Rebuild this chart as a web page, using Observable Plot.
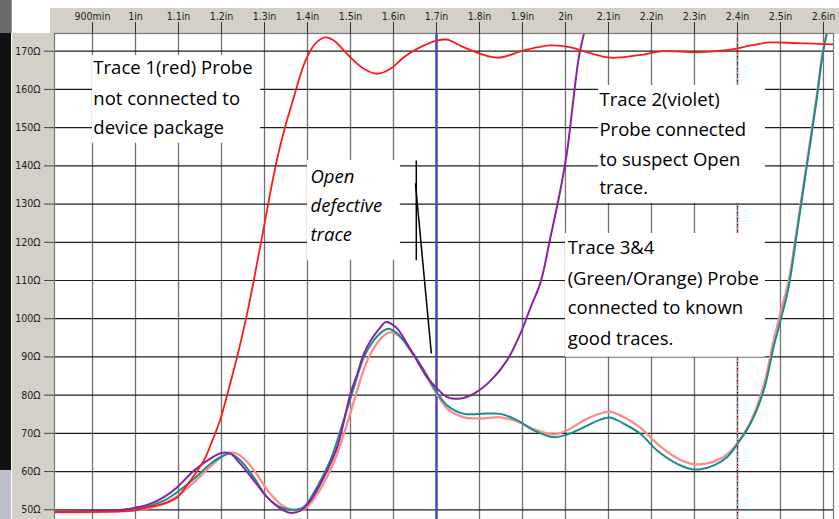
<!DOCTYPE html>
<html>
<head>
<meta charset="utf-8">
<script src="https://cdn.jsdelivr.net/npm/d3@7"></script>
<script src="https://cdn.jsdelivr.net/npm/@observablehq/plot@0.6"></script>
<style>
  html, body { margin: 0; padding: 0; background: #ffffff; }
  #wrap { position: relative; width: 839px; height: 519px; overflow: hidden; }
  .bg { position: absolute; }
  #chart { position: absolute; left: 0; top: 0; }
</style>
</head>
<body>
<div id="wrap">
  <div class="bg" style="left:50px;top:8px;width:789px;height:26px;background:#d4d0c8"></div>
  <div class="bg" style="left:12px;top:33px;width:42px;height:486px;background:#d4d0c8"></div>
  <div class="bg" style="left:0;top:0;width:11px;height:33px;background:#6a6a6a;border-right:1px solid #999"></div>
  <div class="bg" style="left:0;top:33px;width:11px;height:437px;background:#111"></div>
  <div class="bg" style="left:0;top:470px;width:11px;height:49px;background:#c0c0cc"></div>
  <div id="chart"></div>
</div>
<script>
// Tick values and labels
const xTicks = [0.9, 1.0, 1.1, 1.2, 1.3, 1.4, 1.5, 1.6, 1.7, 1.8, 1.9, 2.0, 2.1, 2.2, 2.3, 2.4, 2.5, 2.6];
const xTickLabels = ["900min", "1in", "1.1in", "1.2in", "1.3in", "1.4in", "1.5in", "1.6in", "1.7in", "1.8in", "1.9in", "2in", "2.1in", "2.2in", "2.3in", "2.4in", "2.5in", "2.6in"];
const yTicks = [50, 60, 70, 80, 90, 100, 110, 120, 130, 140, 150, 160, 170];
const yTickLabels = ["50Ω", "60Ω", "70Ω", "80Ω", "90Ω", "100Ω", "110Ω", "120Ω", "130Ω", "140Ω", "150Ω", "160Ω", "170Ω"];

// Trace 1 (red): probe not connected to device package  [inches, ohms]
const trace1 = [[0.812,49.5],[0.92,49.5],[0.99,49.7],[1.035,50.8],[1.066,51.6],[1.097,53.3],[1.128,57.7],[1.159,62.9],[1.178,67.9],[1.198,73.9],[1.217,81.7],[1.240,91.7],[1.260,101.6],[1.275,110.0],[1.298,123.6],[1.326,140.1],[1.345,149.0],[1.368,157.9],[1.391,166.3],[1.407,170.2],[1.423,172.5],[1.442,173.6],[1.461,172.8],[1.5,168.4],[1.531,165.4],[1.562,164.1],[1.593,165.4],[1.624,168.4],[1.655,170.6],[1.702,172.8],[1.725,173.0],[1.764,171.0],[1.841,168.3],[1.903,170.2],[1.965,171.5],[2.012,171.0],[2.051,169.7],[2.105,168.3],[2.167,168.9],[2.229,170.0],[2.306,169.7],[2.384,170.4],[2.430,171.5],[2.477,172.3],[2.539,172.1],[2.623,171.8]];

// Trace 2 (violet): probe connected to suspect open trace
const trace2 = [[0.812,49.5],[0.942,49.8],[0.988,50.3],[1.035,51.6],[1.066,53.3],[1.097,55.9],[1.136,60.3],[1.174,63.4],[1.202,64.9],[1.221,64.7],[1.244,62.0],[1.275,57.7],[1.306,53.3],[1.337,50.3],[1.360,49.2],[1.384,49.8],[1.407,52.4],[1.438,58.5],[1.469,66.4],[1.5,80.4],[1.516,85.6],[1.531,90.8],[1.550,94.8],[1.570,97.8],[1.581,99.1],[1.593,98.8],[1.609,97.4],[1.632,93.4],[1.655,89.1],[1.678,84.7],[1.702,81.7],[1.725,79.5],[1.756,79.1],[1.787,80.4],[1.826,83.8],[1.864,89.1],[1.895,96.1],[1.919,103.0],[1.942,109.5],[1.965,121.3],[1.988,133.6],[2.004,144.0],[2.019,158.0],[2.031,168.4],[2.043,174.6]];

// Trace 3 (green/teal): known good trace
const trace3 = [[0.812,49.5],[0.942,49.7],[0.988,50.2],[1.035,51.1],[1.066,52.4],[1.097,54.6],[1.136,58.1],[1.174,62.0],[1.205,64.2],[1.221,64.7],[1.244,62.9],[1.275,58.5],[1.306,53.3],[1.337,50.7],[1.368,50.0],[1.391,50.7],[1.422,55.9],[1.453,62.9],[1.484,73.4],[1.508,82.1],[1.531,89.9],[1.554,94.3],[1.577,96.9],[1.589,97.4],[1.609,96.1],[1.640,91.7],[1.671,86.5],[1.698,81.2],[1.725,77.3],[1.764,75.1],[1.802,75.1],[1.849,75.1],[1.888,73.4],[1.926,70.8],[1.973,69.0],[2.004,69.7],[2.043,71.6],[2.081,73.6],[2.105,74.1],[2.136,72.5],[2.174,69.9],[2.213,65.5],[2.252,62.5],[2.291,60.7],[2.314,60.6],[2.345,61.6],[2.376,63.8],[2.400,67.3],[2.430,72.5],[2.461,81.2],[2.484,92.6],[2.5,99.5],[2.519,108.3],[2.539,123.1],[2.562,140.5],[2.585,158.0],[2.597,168.4],[2.609,175.4]];

// Trace 4 (orange/pink): known good trace
const trace4 = [[0.812,49.3],[0.942,49.5],[0.988,49.9],[1.035,50.5],[1.066,51.6],[1.097,53.5],[1.136,57.2],[1.174,61.3],[1.205,64.2],[1.226,65.0],[1.249,63.7],[1.279,59.8],[1.309,54.8],[1.342,51.1],[1.372,49.8],[1.398,50.6],[1.428,55.1],[1.460,62.1],[1.491,72.1],[1.514,80.7],[1.537,88.5],[1.560,93.3],[1.584,96.1],[1.595,96.4],[1.614,95.4],[1.644,90.9],[1.674,85.4],[1.700,80.4],[1.728,76.2],[1.764,74.2],[1.802,73.9],[1.849,74.2],[1.888,73.1],[1.926,71.1],[1.973,69.7],[2.004,70.8],[2.043,73.4],[2.081,75.2],[2.105,75.6],[2.136,74.2],[2.174,71.5],[2.213,67.3],[2.252,64.0],[2.291,62.1],[2.314,61.9],[2.345,62.6],[2.376,64.5],[2.400,67.4],[2.430,72.9],[2.461,82.5],[2.484,94.3],[2.5,101.6],[2.519,110.0],[2.539,124.1],[2.562,141.4],[2.585,158.9],[2.597,168.9],[2.609,175.4]];

// Cursors (inches)
const cursorBlue = [1.7];
const cursorDashed = [2.4];

// Annotation boxes (data units: inches, ohms)
const boxes = [
  {x1: 0.9, x2: 1.291, y1: 145.9, y2: 168.9},
  {x1: 1.4, x2: 1.616, y1: 115.3, y2: 141.4},
  {x1: 2.077, x2: 2.465, y1: 130.2, y2: 161.0},
  {x1: 2.0, x2: 2.465, y1: 89.9, y2: 122.3}
];
// Annotation text lines
const notes = [
  {x: 0.902, y: 165.5, text: "Trace 1(red) Probe", italic: false},
  {x: 0.902, y: 157.6, text: "not connected to", italic: false},
  {x: 0.902, y: 150.0, text: "device package", italic: false},
  {x: 1.407, y: 137.0, text: "Open", italic: true},
  {x: 1.407, y: 129.6, text: "defective", italic: true},
  {x: 1.407, y: 121.8, text: "trace", italic: true},
  {x: 2.079, y: 157.1, text: "Trace 2(violet)", italic: false},
  {x: 2.079, y: 149.3, text: "Probe connected", italic: false},
  {x: 2.079, y: 141.4, text: "to suspect Open", italic: false},
  {x: 2.079, y: 134.1, text: "trace.", italic: false},
  {x: 2.005, y: 118.4, text: "Trace 3&4", italic: false},
  {x: 2.005, y: 110.5, text: "(Green/Orange) Probe", italic: false},
  {x: 2.005, y: 102.7, text: "connected to known", italic: false},
  {x: 2.005, y: 94.8, text: "good traces.", italic: false}
];
// Pointer lines for "Open defective trace"
const pointers = [
  {x1: 1.653, y1: 141.4, x2: 1.653, y2: 115.3},
  {x1: 1.651, y1: 135.4, x2: 1.688, y2: 90.9}
];

const fx = d => xTickLabels[Math.round(d * 10) - 9];
const fy = d => yTickLabels[Math.round(d / 10) - 5];
const lineOpts = {x: d => d[0], y: d => d[1], curve: "catmull-rom", clip: true};
const noteFont = "'Open Sans', 'DejaVu Sans', sans-serif";

const chart = Plot.plot({
  width: 839,
  height: 519,
  marginLeft: 54,
  marginRight: 6,
  marginTop: 33,
  marginBottom: 0,
  style: {background: "transparent", fontFamily: "'Liberation Sans Narrow', 'DejaVu Sans Condensed', 'Liberation Sans', sans-serif", fontSize: "10.5px", color: "#222"},
  x: {domain: [0.8116, 2.6233], label: null},
  y: {domain: [47.46, 174.63], label: null},
  marks: [
    Plot.frame({fill: "white"}),
    Plot.gridX(xTicks, {stroke: "#707070", strokeOpacity: 1, strokeWidth: 1.3}),
    Plot.gridY(yTicks, {stroke: "#1e1e1e", strokeOpacity: 1, strokeWidth: 1.2}),
    Plot.ruleX(cursorDashed, {stroke: "#000", strokeWidth: 1.2}),
    Plot.ruleX(cursorDashed, {stroke: "#ff2020", strokeWidth: 1, strokeDasharray: "3,3"}),
    Plot.ruleX(cursorDashed, {stroke: "#20e0e0", strokeWidth: 1, strokeDasharray: "2,4", strokeDashoffset: 3}),
    Plot.rect(boxes, {x1: "x1", x2: "x2", y1: "y1", y2: "y2", fill: "white"}),
    Plot.ruleX(cursorBlue, {stroke: "#4848c8", strokeWidth: 2.5}),
    Plot.line(trace4, {...lineOpts, stroke: "#ff8a8a", strokeWidth: 2.3}),
    Plot.line(trace3, {...lineOpts, stroke: "#158f8d", strokeWidth: 2}),
    Plot.line(trace2, {...lineOpts, stroke: "#8a22a0", strokeWidth: 2}),
    Plot.line(trace1, {...lineOpts, stroke: "#ff1a1a", strokeWidth: 1.8}),
    Plot.link(pointers, {x1: "x1", y1: "y1", x2: "x2", y2: "y2", stroke: "#000", strokeWidth: 1.5}),
    Plot.text(notes.filter(d => !d.italic), {x: "x", y: "y", text: "text", textAnchor: "start", fontSize: 18.5, fontFamily: noteFont, fill: "#000"}),
    Plot.text(notes.filter(d => d.italic), {x: "x", y: "y", text: "text", textAnchor: "start", fontSize: 18.5, fontFamily: noteFont, fontStyle: "italic", fill: "#000"}),
    Plot.frame({stroke: "#777", strokeWidth: 1.2}),
    Plot.axisX({anchor: "top", ticks: xTicks, tickFormat: fx, tickSize: 12, tickPadding: 2, stroke: "#333", label: null}),
    Plot.axisY({anchor: "left", ticks: yTicks, tickFormat: fy, tickSize: 10, tickPadding: 4, stroke: "#444", label: null})
  ]
});
document.getElementById("chart").appendChild(chart);
</script>
</body>
</html>
